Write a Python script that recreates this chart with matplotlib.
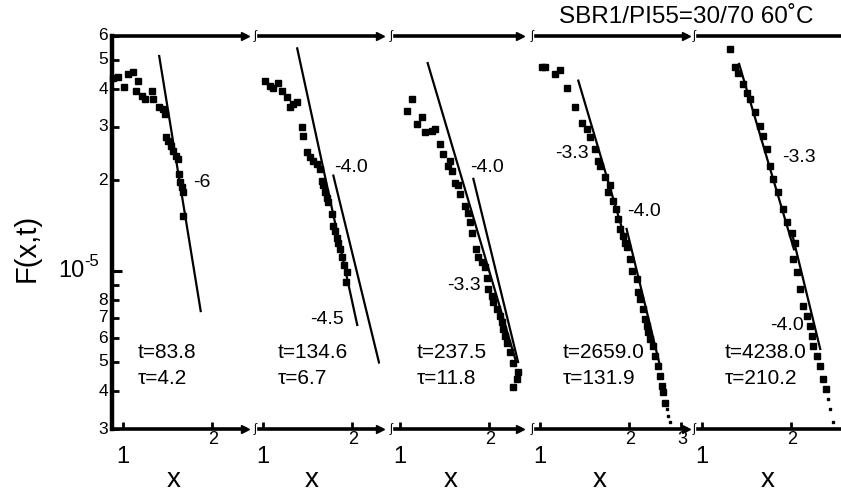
import numpy as np
import matplotlib
matplotlib.use("Agg")
import matplotlib.pyplot as plt
from matplotlib.transforms import blended_transform_factory
from matplotlib.ticker import FixedLocator, NullLocator

plt.rcParams['font.family'] = ['Liberation Sans', 'DejaVu Sans']

# ---------------- data (F in units of 1e-5) ----------------
Y_UNIT = 1e-5

p1_x = [0.925, 0.962, 1.008, 1.040, 1.081, 1.106, 1.124, 1.160, 1.187, 1.254,
        1.264, 1.324, 1.366, 1.387, 1.398, 1.420, 1.454, 1.477, 1.512, 1.536,
        1.548, 1.560, 1.585, 1.597, 1.597]
p1_y = [4.35, 4.39, 4.07, 4.49, 4.56, 3.94, 4.26, 3.79, 3.71, 3.94,
        3.71, 3.49, 3.44, 3.31, 2.78, 2.69, 2.59, 2.50, 2.40, 2.35,
        2.09, 1.97, 1.90, 1.83, 1.52]

p2_x = [1.016, 1.056, 1.084, 1.127, 1.157, 1.203, 1.234, 1.267, 1.301, 1.353,
        1.369, 1.406, 1.443, 1.481, 1.520, 1.560, 1.581, 1.601, 1.622, 1.644,
        1.664, 1.709, 1.731, 1.754, 1.777, 1.800, 1.824, 1.856, 1.886, 1.921,
        1.906]
p2_y = [4.27, 4.11, 4.03, 4.20, 3.95, 3.76, 3.48, 3.57, 3.62, 2.99,
        2.80, 2.47, 2.38, 2.32, 2.26, 2.18, 1.99, 1.92, 1.82, 1.75,
        1.69, 1.54, 1.41, 1.36, 1.29, 1.24, 1.18, 1.11, 1.05, 0.99,
        0.918]

p3_x = [1.096, 1.054, 1.185, 1.139, 1.215, 1.281, 1.314, 1.366, 1.402, 1.457,
        1.477, 1.500, 1.536, 1.576, 1.597, 1.660, 1.704, 1.727, 1.749, 1.809,
        1.842, 1.892, 1.941, 1.967, 1.991, 2.044, 2.070, 2.126, 2.181, 2.210,
        2.238, 2.268, 2.298, 2.358, 2.419, 2.517, 2.487, 2.419]
p3_y = [3.71, 3.39, 3.23, 3.07, 2.88, 2.91, 2.95, 2.63, 2.44, 2.23,
        2.32, 2.14, 1.96, 1.92, 1.80, 1.64, 1.56, 1.45, 1.34, 1.18,
        1.11, 1.07, 1.03, 0.948, 0.872, 0.828, 0.788, 0.748, 0.711, 0.676,
        0.642, 0.611, 0.580, 0.538, 0.498, 0.462, 0.439, 0.412]

p4_x = [1.013, 1.040, 1.124, 1.169, 1.232, 1.314, 1.385, 1.439, 1.477, 1.536,
        1.576, 1.597, 1.660, 1.727, 1.704, 1.772, 1.809, 1.842, 1.866, 1.915,
        1.941, 1.967, 2.018, 2.044, 2.126, 2.153, 2.181, 2.238, 2.268, 2.298,
        2.327, 2.358, 2.419, 2.452, 2.517, 2.550, 2.583, 2.616, 2.651]
p4_y = [4.72, 4.72, 4.49, 4.62, 4.03, 3.48, 3.10, 2.95, 2.77, 2.54,
        2.32, 2.23, 2.05, 1.92, 1.82, 1.71, 1.60, 1.49, 1.38, 1.31,
        1.24, 1.20, 1.10, 1.00, 0.941, 0.850, 0.808, 0.748, 0.694, 0.659,
        0.627, 0.596, 0.566, 0.524, 0.486, 0.450, 0.417, 0.397, 0.367]
p4_tail_x = [2.686, 2.721, 2.756]
p4_tail_y = [0.349, 0.332, 0.316]

p5_x = [1.244, 1.294, 1.327, 1.380, 1.417, 1.454, 1.512, 1.572, 1.614, 1.657,
        1.700, 1.744, 1.813, 1.886, 1.936, 2.012, 2.066, 2.038, 2.092, 2.149,
        2.205, 2.263, 2.321, 2.352, 2.381, 2.446, 2.511, 2.578, 2.632]
p5_y = [5.43, 4.72, 4.54, 4.15, 3.90, 3.71, 3.35, 3.03, 2.80, 2.54,
        2.23, 2.02, 1.82, 1.60, 1.45, 1.34, 1.24, 1.10, 0.99, 0.872,
        0.767, 0.711, 0.659, 0.611, 0.566, 0.524, 0.486, 0.439, 0.407]
p5_tail_x = [2.678, 2.713, 2.784]
p5_tail_y = [0.377, 0.349, 0.316]

t_labels = ["t=83.8", "t=134.6", "t=237.5", "t=2659.0", "t=4238.0"]
tau_labels = ["\u03c4=4.2", "\u03c4=6.7", "\u03c4=11.8", "\u03c4=131.9", "\u03c4=210.2"]

# power-law guide lines: (slope, anchor x, anchor F, F at upper end, F at lower end)
p1_fits = [(-6.0, 1.560, 1.95, 5.15, 0.737)]
p2_fits = [(-4.5, 1.651, 1.90, 5.46, 0.663), (-4.0, 2.069, 1.015, 2.07, 0.498)]
p3_fits = [(-3.3, 1.754, 1.56, 4.88, 0.500), (-4.0, 2.112, 1.004, 2.02, 0.500)]
p4_fits = [(-3.3, 1.348, 4.27, 4.27, 1.276), (-4.0, 2.550, 0.486, 1.379, 0.486)]
p5_fits = [(-3.3, 1.635, 2.487, 4.85, 1.18), (-4.0, 2.287, 0.808, 1.326, 0.552)]

x_limits = [(0.918, 2.59), (0.969, 2.49), (0.962, 2.55), (0.969, 3.125), (0.969, 3.0)]
x_ticks = [[1, 2], [1, 2], [1, 2], [1, 2, 3], [1, 2]]
y_limits = (0.3, 6.0)
y_ticks_upper = [2, 3, 4, 5, 6]          # x 1e-5
y_ticks_lower = [3, 4, 5, 6, 7, 8, 9]    # x 1e-6
title = "SBR1/PI55=30/70 60\u02daC"

# ---------------- layout ----------------
W, H = 841, 495
fig = plt.figure(figsize=(W / 100, H / 100), dpi=100)
fig.patch.set_facecolor("white")


def fx(px):
    return px / W


def fy(py):
    return 1 - py / H


TOP, BOTTOM = 36, 429
PX_PER_DECADE = 295
left_px = [112, 259, 395, 536, 698]

panels_x = [p1_x, p2_x, p3_x, p4_x, p5_x]
panels_y = [p1_y, p2_y, p3_y, p4_y, p5_y]
tails = [None, None, None, (p4_tail_x, p4_tail_y), (p5_tail_x, p5_tail_y)]
fits = [p1_fits, p2_fits, p3_fits, p4_fits, p5_fits]

t_px = [138, 278, 417, 563, 725]
xlabel_px = [174, 312, 451, 600, 768]
slope_text = [
    [(193, 183)],
    [(310, 320), (334, 167)],
    [(447, 286), (470, 167)],
    [(555, 153), (627, 212)],
    [(782, 158), (770, 325)],
]

ymin, ymax = y_limits[0] * Y_UNIT, y_limits[1] * Y_UNIT

for i, (lo, hi) in enumerate(x_limits):
    wpx = PX_PER_DECADE * np.log10(hi / lo)
    ax = fig.add_axes([fx(left_px[i]), fy(BOTTOM), wpx / W, (BOTTOM - TOP) / H])
    ax.set_xscale("log")
    ax.set_yscale("log")
    ax.set_xlim(lo, hi)
    ax.set_ylim(ymin, ymax)
    ax.patch.set_visible(False)

    for side in ("top", "bottom"):
        ax.spines[side].set_linewidth(2.6)
    ax.spines["right"].set_visible(False)
    if i == 0:
        ax.spines["left"].set_linewidth(3.2)
    else:
        ax.spines["left"].set_visible(False)

    # x ticks (inward, labels drawn separately)
    ax.xaxis.set_major_locator(FixedLocator(x_ticks[i]))
    ax.xaxis.set_minor_locator(NullLocator())
    ax.tick_params(axis="x", which="both", direction="in", length=5, width=2,
                   top=False, labelbottom=False)

    # y ticks only on the first panel
    if i == 0:
        ax.yaxis.set_major_locator(FixedLocator([Y_UNIT]))
        minor = [v * Y_UNIT for v in y_ticks_upper] + [v * 0.1 * Y_UNIT for v in y_ticks_lower]
        ax.yaxis.set_minor_locator(FixedLocator(minor))
        ax.tick_params(axis="y", which="major", direction="in", length=7, width=2.2,
                       labelleft=False, right=False)
        ax.tick_params(axis="y", which="minor", direction="in", length=5, width=2,
                       labelleft=False, right=False)
        tr = blended_transform_factory(fig.transFigure, ax.transData)
        for v in y_ticks_upper:
            ax.text(fx(108), v * Y_UNIT, str(v), transform=tr, ha="right",
                    va="center", fontsize=12.5)
        for v in y_ticks_lower:
            if v == 9:
                continue
            ax.text(fx(108), v * 0.1 * Y_UNIT, str(v), transform=tr, ha="right",
                    va="center", fontsize=12.5)
        ax.text(fx(84), Y_UNIT, "10", transform=tr, ha="right", va="center",
                fontsize=17)
        fig.text(fx(84), fy(261), "-5", ha="left", va="center", fontsize=12)
    else:
        ax.yaxis.set_major_locator(NullLocator())
        ax.yaxis.set_minor_locator(NullLocator())
        ax.tick_params(axis="y", which="both", left=False, right=False, labelleft=False)

    # arrow heads at the right end of the frame lines
    if i < 4:
        ax.plot([hi, hi], [ymin, ymax], linestyle="none", marker=">", ms=6,
                color="black", clip_on=False)

    # data
    ax.plot(np.array(panels_x[i]), np.array(panels_y[i]) * Y_UNIT, linestyle="none",
            marker="s", ms=4.4, color="black", clip_on=False)
    if tails[i] is not None:
        tx, ty = tails[i]
        ax.plot(np.array(tx), np.array(ty) * Y_UNIT, linestyle="none", marker="s",
                ms=1.8, color="black")

    # guide lines with the stated power-law slopes
    for slope, x0, y0, ytop, ybot in fits[i]:
        xa = x0 * (ytop / y0) ** (1.0 / slope)
        xb = x0 * (ybot / y0) ** (1.0 / slope)
        ax.plot([xa, xb], [ytop * Y_UNIT, ybot * Y_UNIT], color="black", lw=1.6)

    # x tick labels: "1" large and low, others small near the axis
    trx = blended_transform_factory(ax.transData, fig.transFigure)
    for v in x_ticks[i]:
        if v == 1:
            ax.text(v, fy(457), "1", transform=trx, ha="center", va="center",
                    fontsize=17)
        else:
            ax.text(v * 1.01, fy(439), str(v), transform=trx, ha="center",
                    va="center", fontsize=13)

    # break marks at the left end of panels 2-5
    if i > 0:
        for yy in (TOP, BOTTOM):
            fig.text(fx(left_px[i] - 4), fy(yy), "\u0283", ha="center",
                     va="center", fontsize=8.5)

    # annotations
    fig.text(fx(t_px[i]), fy(352), t_labels[i], ha="left", va="center", fontsize=15)
    fig.text(fx(t_px[i]), fy(379), tau_labels[i], ha="left", va="center", fontsize=15)
    for (slope, *_), (sx, sy) in zip(fits[i], slope_text[i]):
        lbl = "%d" % slope if float(slope).is_integer() and i == 0 else "%.1f" % slope
        fig.text(fx(sx), fy(sy), lbl, ha="left", va="center", fontsize=14)
    fig.text(fx(xlabel_px[i]), fy(480), "x", ha="center", va="center", fontsize=20)

fig.text(fx(27), fy(248), "F(x,t)", rotation=90, ha="center", va="center", fontsize=21)
fig.text(fx(686), fy(17), title, ha="center", va="center", fontsize=17.5)

fig.savefig("out.png", dpi=100, facecolor="white")
